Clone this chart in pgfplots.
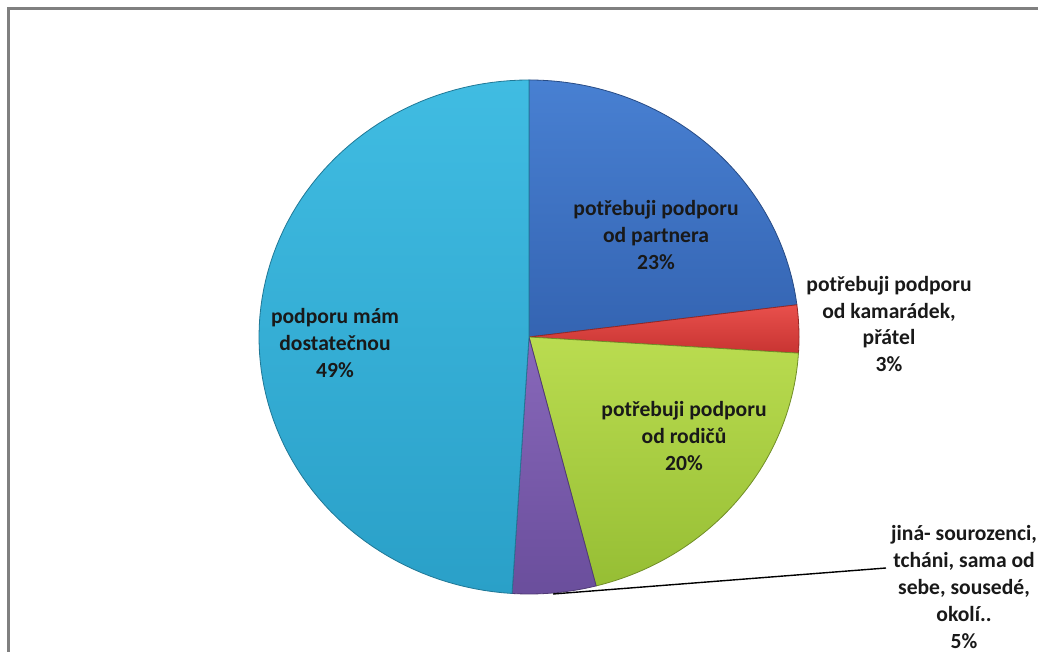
\documentclass[border=0pt]{standalone}
\usepackage{pgfplots}
\pgfplotsset{compat=1.18}
\usepackage{fontspec}
\setmainfont{Carlito}

% shares in percent, clockwise from 12 o'clock
\def\sPartner{23}
\def\sFriends{3}
\def\sParents{20}
\def\sOther{5}
\def\sEnough{49}

\definecolor{cPartnerT}{RGB}{72,128,210}
\definecolor{cPartnerB}{RGB}{52,100,178}
\definecolor{cFriendsT}{RGB}{232,80,76}
\definecolor{cFriendsB}{RGB}{200,52,50}
\definecolor{cParentsT}{RGB}{186,220,80}
\definecolor{cParentsB}{RGB}{150,190,52}
\definecolor{cOtherT}{RGB}{136,104,186}
\definecolor{cOtherB}{RGB}{106,78,156}
\definecolor{cEnoughT}{RGB}{64,188,226}
\definecolor{cEnoughB}{RGB}{42,160,200}
\definecolor{frame}{RGB}{128,128,128}

\tikzset{lbl/.style={font=\fontsize{10.8}{13.4}\selectfont\bfseries, align=center, text=black!90, inner sep=0pt}}

\begin{document}
\begin{tikzpicture}
\pgfmathsetmacro\aA{90}
\pgfmathsetmacro\aB{\aA-3.6*\sPartner}
\pgfmathsetmacro\aC{\aB-3.6*\sFriends}
\pgfmathsetmacro\aD{\aC-3.6*\sParents}
\pgfmathsetmacro\aE{\aD-3.6*\sOther}
\pgfmathsetmacro\aF{\aE-3.6*\sEnough}
\begin{axis}[
  at={(0,0)}, anchor=south west,
  scale only axis, width=519pt, height=326pt,
  xmin=0, xmax=1038, ymin=0, ymax=652, y dir=reverse,
  hide axis, clip=false,
]
% chart frame
\addplot[draw=frame, line width=1.3pt] coordinates {(1060,8.5) (8.5,8.5) (8.5,670)};

\newcommand\slice[4]{%
  \addplot[draw=#4!75!black, line width=0.4pt, top color=#3T, bottom color=#4,
    domain=#2:#1, samples=90, variable=\t]
    ({529+270*cos(\t)},{337-257*sin(\t)}) -- (axis cs:529,337) -- cycle;}
\slice{\aA}{\aB}{cPartner}{cPartnerB}
\slice{\aB}{\aC}{cFriends}{cFriendsB}
\slice{\aC}{\aD}{cParents}{cParentsB}
\slice{\aD}{\aE}{cOther}{cOtherB}
\slice{\aE}{\aF}{cEnough}{cEnoughB}

% leader line to the outside label
\addplot[black, line width=0.7pt] coordinates {(553,594) (886,568)};

\node[lbl] at (axis cs:656,235) {potřebuji podporu\\od partnera\\23\%};
\node[lbl] at (axis cs:889,324) {potřebuji podporu\\od kamarádek,\\přátel\\3\%};
\node[lbl] at (axis cs:335,343) {podporu mám\\dostatečnou\\49\%};
\node[lbl] at (axis cs:684,436) {potřebuji podporu\\od rodičů\\20\%};
\node[lbl] at (axis cs:964,587) {jiná- sourozenci,\\tcháni, sama od\\sebe, sousedé,\\okolí..\\5\%};
\end{axis}
\pgfresetboundingbox
\useasboundingbox (0,0) rectangle (519pt,326pt);
\end{tikzpicture}
\end{document}
